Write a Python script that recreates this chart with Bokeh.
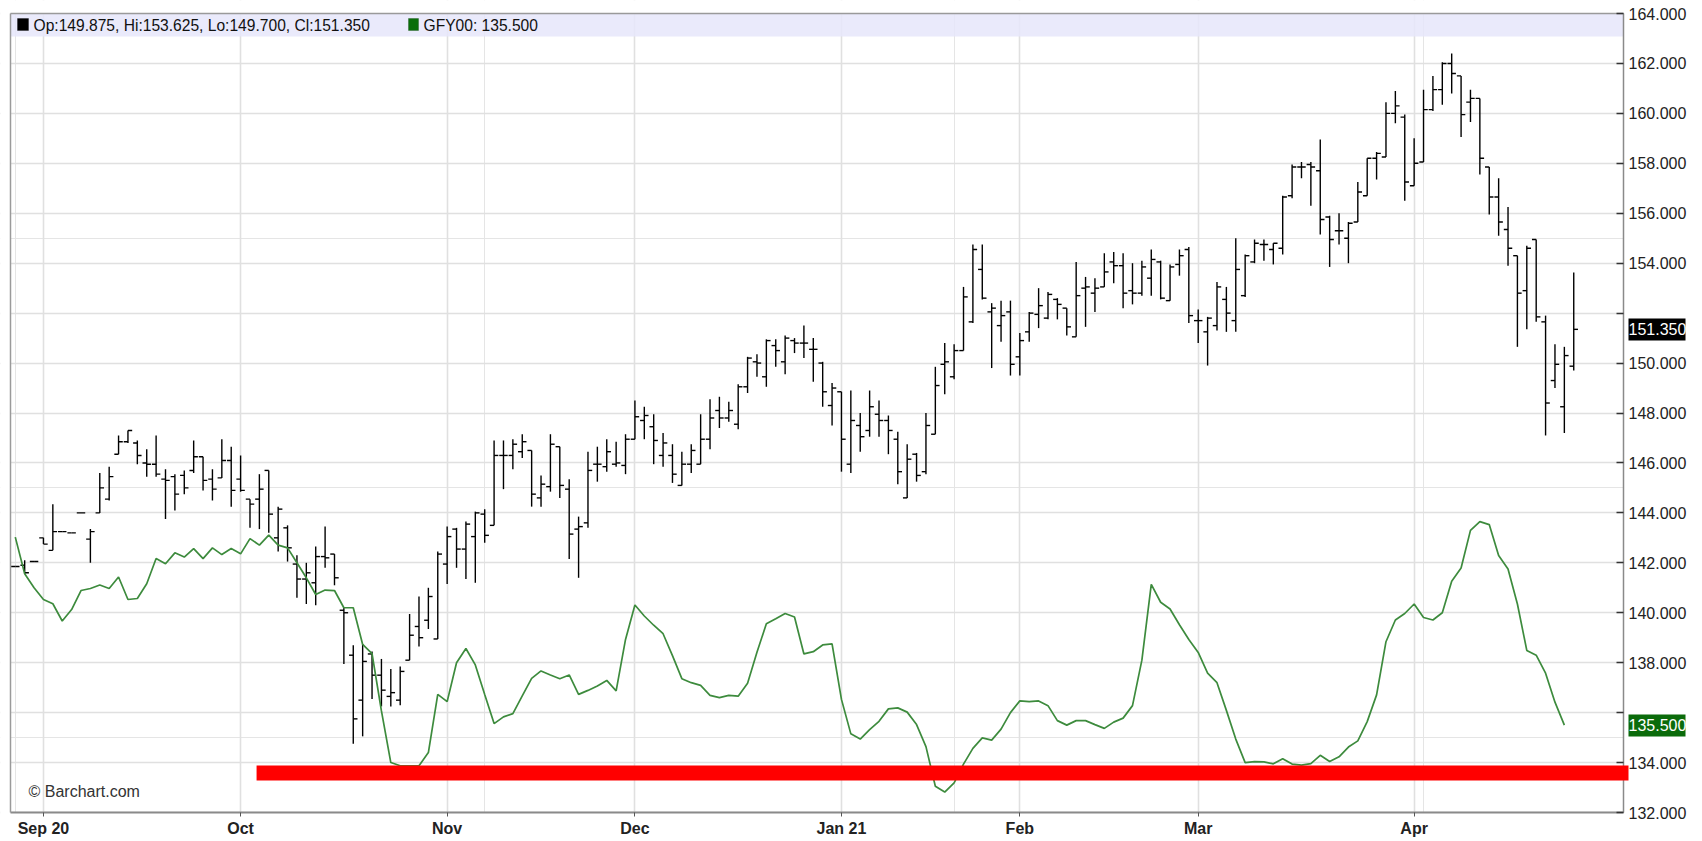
import numpy as np
import pandas as pd
from bokeh.plotting import figure
from bokeh.models import (Range1d, FixedTicker, Label, BoxAnnotation, ColumnDataSource,
                          LinearAxis, NumeralTickFormatter, Grid)
from bokeh.embed import file_html
from bokeh.resources import INLINE

# ---------------- data ----------------
holidays = ["2020-09-07", "2020-11-26", "2020-12-25", "2021-01-01",
            "2021-01-18", "2021-02-15", "2021-04-02"]
dates = pd.bdate_range("2020-08-27", "2021-04-27", freq="C", holidays=holidays)

opens = [141.85, 141.9, 142.05, 143.0, 142.5, 143.25, 143.2, 144.0, 142.95, 144.0,
         144.55, 146.35, 146.85, 146.8, 146.0, 145.95, 145.35, 145.45, 145.5, 145.7,
         146.25, 145.35, 145.4, 146.1, 145.35, 144.55, 144.55, 145.7, 143.0, 143.4,
         141.95, 141.35, 141.2, 142.25, 142.35, 140.1, 138.3, 136.5, 138.35, 137.5,
         136.65, 136.5, 138.1, 139.45, 139.7, 138.95, 141.95, 143.35, 142.55, 143.05,
         143.95, 143.5, 146.3, 146.3, 146.45, 146.5, 144.6, 145.05, 146.65, 144.95,
         143.35, 143.6, 145.95, 145.85, 145.95, 145.9, 146.95, 147.7, 147.45, 146.3,
         146.3, 145.1, 145.95, 145.95, 146.95, 148.1, 147.8, 147.55, 149.05, 150.05,
         149.45, 150.7, 150.05, 150.9, 150.8, 150.55, 150.0, 148.3, 148.85, 145.95,
         147.5, 147.3, 147.95, 147.7, 146.95, 144.6, 146.35, 145.65, 147.15, 149.95,
         149.45, 150.5, 151.65, 153.75, 152.05, 151.5, 152.05, 150.25, 151.25, 151.95,
         151.8, 152.55, 152.2, 151.05, 153.0, 152.8, 153.05, 154.05, 153.9, 152.9,
         152.8, 153.4, 154.05, 152.5, 153.95, 154.55, 151.7, 151.25, 151.5, 152.55,
         151.7, 152.7, 154.05, 154.75, 154.55, 154.6, 156.7, 157.85, 157.95, 157.7,
         155.85, 155.3, 155.0, 155.65, 156.7, 158.2, 158.25, 160.0, 159.85, 157.1,
         158.05, 160.15, 160.95, 162.0, 161.5, 160.45, 160.6, 157.85, 156.65, 155.35,
         154.3, 152.9, 154.95, 151.65, 149.3, 148.25, 149.875]
highs = [141.85, 142.1, 142.05, 143.0, 144.35, 143.25, 143.2, 144.0, 143.35, 145.6,
         145.85, 147.1, 147.3, 146.9, 146.55, 147.1, 145.75, 145.55, 145.7, 146.9,
         146.25, 145.75, 146.95, 146.65, 146.3, 144.55, 145.55, 145.7, 144.25, 143.5,
         142.3, 142.0, 142.65, 143.45, 142.35, 140.2, 138.7, 138.75, 138.45, 138.15,
         137.75, 137.85, 139.95, 140.65, 141.0, 142.45, 143.45, 143.4, 143.65, 144.05,
         144.15, 146.9, 146.9, 146.95, 147.15, 146.5, 145.5, 147.15, 146.65, 145.35,
         143.85, 146.45, 146.65, 146.95, 146.85, 147.15, 148.5, 148.25, 147.95, 147.2,
         146.75, 146.45, 146.75, 147.95, 148.55, 148.65, 148.45, 149.15, 150.25, 150.35,
         150.95, 150.95, 151.1, 151.0, 151.5, 151.0, 150.05, 149.2, 148.85, 148.9,
         148.0, 148.9, 148.5, 147.9, 147.25, 146.75, 146.4, 148.0, 149.85, 150.8,
         150.75, 153.05, 154.75, 154.75, 152.4, 152.5, 152.5, 151.2, 152.05, 153.0,
         152.85, 152.6, 152.2, 154.05, 153.45, 153.4, 154.4, 154.45, 154.4, 154.0,
         154.1, 154.55, 154.1, 153.95, 154.55, 154.65, 152.15, 151.85, 153.25, 153.05,
         155.0, 154.35, 154.95, 154.95, 154.8, 156.7, 157.95, 158.05, 158.05, 158.95,
         155.9, 156.0, 155.65, 157.25, 158.2, 158.45, 160.45, 160.9, 159.95, 159.0,
         160.95, 161.5, 162.05, 162.4, 161.5, 160.95, 160.6, 157.85, 157.4, 156.25,
         154.3, 154.7, 154.95, 151.9, 150.75, 150.65, 153.625]
lows = [141.85, 141.55, 142.05, 142.75, 142.5, 143.25, 143.2, 144.0, 142.0, 144.0,
        144.5, 146.35, 146.8, 145.95, 145.45, 145.45, 143.75, 144.1, 144.75, 145.6,
        144.9, 144.5, 145.4, 144.25, 144.85, 143.4, 143.35, 143.2, 142.45, 142.05,
        140.6, 140.35, 140.3, 141.8, 141.1, 137.95, 134.75, 135.05, 136.55, 136.25,
        136.25, 136.3, 138.1, 138.65, 139.35, 138.95, 141.15, 141.8, 141.35, 141.2,
        142.8, 143.5, 144.95, 145.75, 146.2, 144.25, 144.25, 144.85, 144.6, 142.15,
        141.4, 143.4, 145.25, 145.65, 145.85, 145.55, 146.95, 146.95, 145.95, 145.85,
        145.2, 145.1, 145.6, 145.95, 146.55, 147.4, 147.65, 147.35, 148.8, 149.45,
        149.05, 149.85, 149.55, 150.4, 150.2, 149.25, 148.25, 147.5, 145.65, 145.6,
        146.45, 147.05, 147.05, 146.35, 145.15, 144.6, 145.25, 145.55, 147.15, 148.75,
        149.35, 150.5, 151.6, 152.55, 149.8, 150.85, 149.5, 149.5, 150.85, 151.4,
        151.75, 151.75, 151.1, 151.05, 151.45, 152.05, 153.05, 153.2, 152.2, 152.35,
        152.7, 152.7, 152.55, 152.5, 153.5, 151.6, 150.8, 149.9, 151.3, 151.25,
        151.25, 152.65, 154.0, 154.1, 153.95, 154.35, 156.6, 157.4, 156.3, 155.15,
        153.85, 154.75, 154.0, 155.65, 156.7, 157.35, 158.25, 159.6, 156.5, 157.1,
        158.05, 160.1, 160.35, 160.8, 159.05, 159.65, 157.55, 155.95, 155.1, 153.9,
        150.65, 151.35, 151.65, 147.1, 149.0, 147.2, 149.7]
closes = [141.85, 141.6, 142.05, 142.75, 143.25, 143.25, 143.2, 144.0, 143.25, 145.0,
          145.45, 146.85, 147.3, 146.3, 145.95, 145.55, 145.3, 144.75, 145.0, 146.25,
          145.3, 144.95, 146.1, 144.9, 144.9, 144.35, 144.95, 143.95, 144.15, 142.6,
          141.35, 141.6, 142.25, 142.2, 141.4, 140.0, 135.75, 138.05, 137.5, 136.9,
          136.8, 137.65, 139.1, 139.0, 140.65, 142.35, 143.05, 142.55, 143.55, 144.0,
          143.1, 146.3, 146.3, 146.75, 146.85, 144.75, 145.15, 146.75, 145.1, 143.15,
          143.45, 145.7, 145.95, 146.45, 146.0, 146.95, 147.85, 147.9, 146.9, 146.8,
          145.55, 145.95, 146.5, 146.95, 147.8, 147.8, 148.1, 149.05, 150.2, 150.0,
          150.9, 150.5, 151.0, 150.8, 150.8, 150.55, 148.85, 149.0, 146.95, 147.7,
          147.05, 148.25, 147.7, 147.3, 145.65, 146.15, 145.5, 147.5, 149.1, 150.05,
          150.5, 152.65, 154.55, 152.6, 152.2, 151.9, 149.95, 150.9, 152.0, 152.3,
          152.75, 152.35, 151.45, 152.7, 153.05, 153.0, 153.65, 153.9, 152.8, 152.8,
          153.85, 154.15, 152.6, 153.85, 154.3, 151.9, 151.7, 151.8, 153.05, 152.0,
          153.75, 154.3, 154.8, 154.75, 154.8, 156.65, 157.85, 157.85, 157.85, 155.75,
          154.95, 155.3, 155.6, 156.85, 158.2, 158.4, 160.0, 160.3, 157.25, 158.0,
          160.15, 160.95, 162.0, 161.6, 159.95, 160.6, 158.2, 156.65, 155.65, 154.6,
          152.8, 154.6, 151.85, 148.4, 149.95, 150.3, 151.35]
# GFY00 (CME Feeder Cattle Index), one day behind the futures bars
index_line = [143.03, 141.56, 141.0, 140.53, 140.36, 139.67, 140.13, 140.89, 140.97, 141.11,
              140.97, 141.43, 140.53, 140.57, 141.16, 142.17, 141.96, 142.4, 142.23, 142.57,
              142.17, 142.6, 142.33, 142.57, 142.36, 142.97, 142.71, 143.11, 142.71, 142.6,
              142.0, 141.4, 140.73, 140.91, 140.89, 140.2, 140.2, 138.73, 138.36, 136.07,
              134.0, 133.87, 133.87, 133.87, 134.4, 136.73, 136.44, 138.0, 138.57, 137.91,
              136.73, 135.56, 135.83, 135.96, 136.67, 137.37, 137.67, 137.51, 137.36, 137.51,
              136.73, 136.89, 137.07, 137.29, 136.87, 138.93, 140.31, 139.87, 139.5, 139.16,
              138.28, 137.36, 137.2, 137.09, 136.69, 136.6, 136.69, 136.66, 137.18, 138.42,
              139.56, 139.76, 139.97, 139.83, 138.35, 138.44, 138.71, 138.75, 136.53, 135.15,
              134.94, 135.32, 135.65, 136.15, 136.19, 136.02, 135.52, 134.64, 133.05, 132.82,
              133.19, 133.94, 134.57, 134.99, 134.9, 135.34, 136.0, 136.47, 136.44, 136.47,
              136.28, 135.68, 135.5, 135.68, 135.68, 135.52, 135.37, 135.62, 135.78, 136.28,
              138.1, 141.14, 140.42, 140.15, 139.52, 138.93, 138.41, 137.58, 137.2, 136.09,
              134.94, 134.0, 134.04, 134.03, 133.95, 134.15, 133.94, 133.9, 133.96, 134.29,
              134.04, 134.23, 134.62, 134.87, 135.64, 136.71, 138.84, 139.71, 139.97, 140.35,
              139.81, 139.71, 140.0, 141.26, 141.79, 143.3, 143.65, 143.53, 142.29, 141.75,
              140.35, 138.49, 138.3, 137.58, 136.42, 135.5]
index_name = "GFY00"
support_start_bar = 25.7      # hand-drawn red support band
support_low, support_high = 133.28, 133.88
y_ticks = list(range(132, 165, 2))

# ---------------- derived ----------------
n = len(opens)
x = np.arange(n)
month_idx, month_lab = [], []
for i in range(1, len(dates)):
    if dates[i].month != dates[i - 1].month:
        d = dates[i]
        month_idx.append(i)
        month_lab.append(d.strftime("%b %y") if (not month_lab or d.month == 1) else d.strftime("%b"))

# plot area (page px) and its data extent
W, H = 1702, 841
FL, FT, FW, FH = 10, 13, 1613, 799
X0, X1 = -0.51, 171.3
Y0, Y1 = 132, 164
sx = FW / (X1 - X0)
sy = FH / (Y1 - Y0)
def px2x(px):
    return X0 + (px - FL) / sx
def py2y(py):
    return Y1 - (py - FT) / sy

FONT = "Liberation Sans"
GRID = "#e0e0e0"
BORDER = "#8a8a8a"

# the frame spans the whole canvas; axes are placed at fixed locations on the plot area edges
p = figure(width=W, height=H, x_range=Range1d(px2x(0), px2x(W)), y_range=Range1d(py2y(H), py2y(0)),
           output_backend="svg", toolbar_location=None, x_axis_location=None, y_axis_location=None,
           min_border=0, min_border_left=0, min_border_right=0, min_border_top=0, min_border_bottom=0)
p.background_fill_color = "white"
p.border_fill_color = "white"
p.outline_line_color = None

# grids
p.add_layout(Grid(dimension=0, ticker=FixedTicker(ticks=month_idx),
                  grid_line_color=GRID, grid_line_width=1.6))
p.add_layout(Grid(dimension=1, ticker=FixedTicker(ticks=y_ticks),
                  grid_line_color=GRID, grid_line_width=1.6))
# keep grid lines inside the plot area
for kw in (dict(top=py2y(0), bottom=Y1), dict(top=Y0, bottom=py2y(H)),
           dict(left=px2x(0), right=X0), dict(left=X1, right=px2x(W))):
    p.add_layout(BoxAnnotation(fill_color="white", fill_alpha=1, line_alpha=0, level="underlay", **kw))

# top info band
p.add_layout(BoxAnnotation(bottom=py2y(36), top=Y1, left=X0, right=X1, fill_color="#e6e6fa",
                           fill_alpha=0.85, line_alpha=0, level="underlay"))

# OHLC bars
src = ColumnDataSource(dict(x=x, o=opens, h=highs, l=lows, c=closes, xl=x - 0.45, xr=x + 0.45))
p.segment("x", "l", "x", "h", source=src, line_color="black", line_width=1.4)
p.segment("xl", "o", "x", "o", source=src, line_color="black", line_width=1.4)
p.segment("x", "c", "xr", "c", source=src, line_color="black", line_width=1.4)

# index line
p.line(x[:len(index_line)], index_line, line_color="#3d8b3d", line_width=1.7)

# red support band
p.add_layout(BoxAnnotation(left=support_start_bar, right=px2x(1628), bottom=support_low,
                           top=support_high, fill_color="#ff0000", fill_alpha=1, line_alpha=0))

# ---- axes ----
last_c, last_i = closes[-1], index_line[-1]
ya = LinearAxis(fixed_location=X1, bounds=(Y0, Y1), ticker=FixedTicker(ticks=y_ticks),
                formatter=NumeralTickFormatter(format="0.000"))
ya.major_label_overrides = {t: "" for t in y_ticks if abs(t - last_c) < 0.9 or abs(t - last_i) < 0.9}
ya.major_label_text_font = FONT
ya.major_label_text_font_size = "16px"
ya.major_label_text_color = "#222222"
ya.major_tick_in = 7
ya.major_tick_out = 0
ya.minor_tick_line_color = None
ya.major_tick_line_color = "#333333"
ya.major_tick_line_width = 1.5
ya.axis_line_color = BORDER
ya.axis_line_width = 1.5
ya.major_label_standoff = 5
p.add_layout(ya, "right")

xa = LinearAxis(fixed_location=Y0, bounds=(X0, X1), ticker=FixedTicker(ticks=month_idx))
xa.major_label_overrides = {i: lab for i, lab in zip(month_idx, month_lab)}
xa.major_label_text_font = FONT
xa.major_label_text_font_size = "16px"
xa.major_label_text_font_style = "bold"
xa.major_label_text_color = "#222222"
xa.major_label_standoff = 3
xa.major_tick_in = 0
xa.major_tick_out = 4
xa.major_tick_line_color = "#555555"
xa.minor_tick_line_color = None
xa.axis_line_color = BORDER
xa.axis_line_width = 2
p.add_layout(xa, "below")

# left and top borders of the plot area
for loc, bnd, side in ((X0, (Y0, Y1), "left"), (Y1, (X0, X1), "above")):
    b = LinearAxis(fixed_location=loc, bounds=bnd, ticker=FixedTicker(ticks=[]))
    b.axis_line_color = "#9a9a9a"
    b.axis_line_width = 1.5
    b.major_tick_line_color = None
    b.minor_tick_line_color = None
    p.add_layout(b, side)

# last-value boxes on the price axis
for val, bg in ((last_c, "black"), (last_i, "#0b6b0b")):
    ax = LinearAxis(fixed_location=X1, bounds=(Y0, Y1), ticker=FixedTicker(ticks=[val]),
                    formatter=NumeralTickFormatter(format="0.000"))
    ax.axis_line_color = None
    ax.minor_tick_line_color = None
    ax.major_tick_in = -5
    ax.major_tick_out = 62
    ax.major_tick_line_width = 22
    ax.major_tick_line_color = bg
    ax.major_label_standoff = -57
    ax.major_label_text_font = FONT
    ax.major_label_text_font_size = "16px"
    ax.major_label_text_color = "white"
    p.add_layout(ax, "right")

# legend squares + texts
p.add_layout(BoxAnnotation(left=px2x(17), right=px2x(28), top=py2y(18), bottom=py2y(30),
                           fill_color="black", fill_alpha=1, line_color="black"))
p.add_layout(BoxAnnotation(left=px2x(408), right=px2x(418), top=py2y(18), bottom=py2y(30),
                           fill_color="#0a6e0a", fill_alpha=1, line_color="#063d06"))
leg1 = f"Op:{opens[-1]:.3f}, Hi:{highs[-1]:.3f}, Lo:{lows[-1]:.3f}, Cl:{closes[-1]:.3f}"
leg2 = f"{index_name}: {index_line[-1]:.3f}"
for txt, xp in ((leg1, 33), (leg2, 423)):
    p.add_layout(Label(x=px2x(xp), y=py2y(24.5), text=txt, text_font=FONT, text_font_size="15.6px",
                       text_color="#111111", text_baseline="middle"))

p.add_layout(Label(x=px2x(28), y=py2y(791), text="\u00a9 Barchart.com", text_font=FONT,
                   text_font_size="16px", text_color="#333333", text_baseline="middle"))

open("out.html", "w").write(file_html(p, INLINE))
